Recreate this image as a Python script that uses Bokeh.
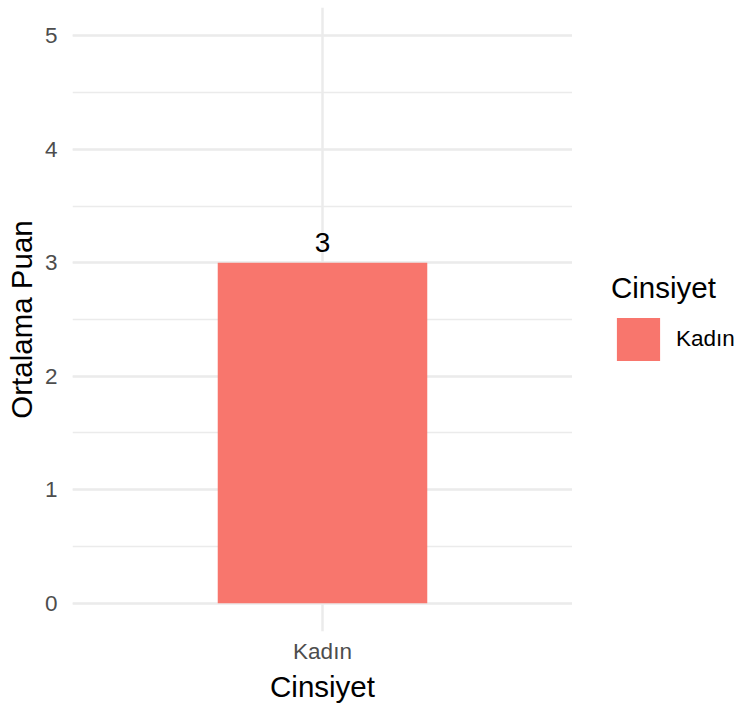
from bokeh.plotting import figure
from bokeh.models import (FactorRange, Range1d, SingleIntervalTicker, Legend,
                          LegendItem, ColumnDataSource)
from bokeh.layouts import row
from bokeh.core.properties import value
from bokeh.embed import file_html
from bokeh.resources import INLINE

# ---- data ----
categories = ["Kadın"]
values = [3]
x_title = "Cinsiyet"
y_title = "Ortalama Puan"
legend_title = "Cinsiyet"

FONT = "Liberation Sans"
BAR_COLOR = "#F8766D"
GRID = "#EBEBEB"
TICK_COLOR = "#4D4D4D"
TITLE_SIZE = "29.5px"
TICK_SIZE = "22.5px"

src = ColumnDataSource(dict(x=categories, top=values,
                            label=[str(v) for v in values]))

p = figure(width=572, height=706,
           x_range=FactorRange(factors=categories, range_padding=1.1),
           y_range=Range1d(-0.25, 5.25),
           output_backend="svg", toolbar_location=None,
           min_border_left=72, min_border_right=0,
           min_border_top=7, min_border_bottom=75)
p.outline_line_color = None
p.background_fill_color = "white"
p.border_fill_color = "white"

r = p.vbar(x="x", top="top", width=0.88, source=src,
           fill_color=BAR_COLOR, line_color=None)

p.text(x="x", y="top", text="label", source=src, text_align="center",
       text_baseline="alphabetic", y_offset=-20,
       text_font=value(FONT), text_font_size="28px", text_color="black")

# axes
p.yaxis.ticker = SingleIntervalTicker(interval=1, num_minor_ticks=2)
for ax in (p.xaxis[0], p.yaxis[0]):
    ax.axis_line_color = None
    ax.major_tick_line_color = None
    ax.minor_tick_line_color = None
    ax.major_label_text_font = FONT
    ax.major_label_text_font_size = TICK_SIZE
    ax.major_label_text_color = TICK_COLOR
    ax.axis_label_text_font = FONT
    ax.axis_label_text_font_size = TITLE_SIZE
    ax.axis_label_text_font_style = "normal"
    ax.axis_label_text_color = "black"
p.xaxis.axis_label = x_title
p.yaxis.axis_label = y_title
p.xaxis.major_label_standoff = 1
p.xaxis.axis_label_standoff = 3
p.yaxis.major_label_standoff = 9
p.yaxis.axis_label_standoff = 4

# grids
p.ygrid.ticker = p.yaxis[0].ticker
p.ygrid.grid_line_color = GRID
p.ygrid.grid_line_width = 2.5
p.ygrid.minor_grid_line_color = GRID
p.ygrid.minor_grid_line_width = 1.4
p.xgrid.grid_line_color = GRID
p.xgrid.grid_line_width = 2.5

# ---- legend panel (separate figure on the right) ----
lg = figure(width=168, height=706, x_range=FactorRange(factors=categories),
            y_range=Range1d(-2, -1),
            x_axis_type=None, y_axis_type=None,
            output_backend="svg", toolbar_location=None,
            min_border_left=0, min_border_right=0,
            min_border_top=0, min_border_bottom=0)
lg.outline_line_color = None
lg.border_fill_color = "white"
lg.background_fill_color = "white"
# key renderer: zero-width bars out of view, only its legend swatch is drawn
kr = lg.vbar(x="x", top="top", width=0, source=src,
             fill_color=BAR_COLOR, line_color=None)

legend = Legend(items=[LegendItem(label=value(categories[0]), renderers=[kr])],
                title=legend_title, location=(39, 265),
                padding=0, margin=0, border_line_color=None,
                background_fill_alpha=0,
                glyph_width=54, glyph_height=54, label_standoff=11,
                label_text_font=FONT, label_text_font_size=TICK_SIZE,
                label_text_color="black",
                title_text_font=FONT, title_text_font_size=TITLE_SIZE,
                title_text_font_style="normal", title_text_color="black",
                title_standoff=7)
lg.add_layout(legend)

layout = row(p, lg)
open("out.html", "w").write(file_html(layout, INLINE))
